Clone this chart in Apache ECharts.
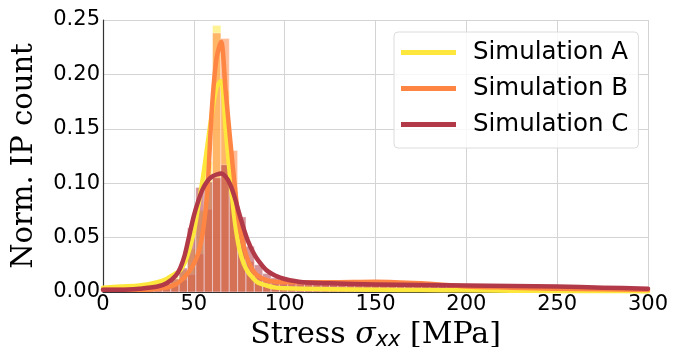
<!DOCTYPE html>
<html>
<head>
<meta charset="utf-8">
<script src="https://cdn.jsdelivr.net/npm/echarts@6/dist/echarts.min.js"></script>
<style>
  html, body { margin: 0; padding: 0; background: #fff; }
  #chart { width: 677px; height: 347px; }
</style>
</head>
<body>
<div id="chart"></div>
<script>
// series names + colours
const seriesNames = ['Simulation A', 'Simulation B', 'Simulation C'];
const seriesColors = ['#fde73c', '#ff8542', '#b23a48'];

// histogram bins (MPa)
const binStart = 0.5;
const binWidth = 4.6;

const histA = [
  0.004, 0.005, 0.005, 0.006, 0.007, 0.008, 0.009, 0.011, 0.014, 0.02,
  0.04, 0.075, 0.12, 0.245, 0.185, 0.095, 0.042, 0.02, 0.01, 0.006,
  0.004, 0.003, 0.002, 0.002, 0.002, 0.002, 0.002, 0.002, 0.002, 0.002,
  0.002, 0.002, 0.002, 0.002, 0.002, 0.002, 0.002, 0.0015, 0.0015, 0.0015,
  0.0015, 0.0015, 0.0015, 0.0015, 0.0015, 0.0015, 0.0015, 0.0015, 0.0015, 0.0015,
  0.0015, 0.001, 0.001, 0.001, 0.001, 0.001, 0.001, 0.001, 0.001, 0.001,
  0.001, 0.001, 0.001, 0.001, 0.001
];
const histB = [
  0.001, 0.001, 0.002, 0.002, 0.002, 0.003, 0.003, 0.004, 0.007, 0.011,
  0.016, 0.035, 0.076, 0.238, 0.233, 0.13, 0.06, 0.028, 0.015, 0.011,
  0.01, 0.009, 0.009, 0.01, 0.009, 0.01, 0.009, 0.009, 0.01, 0.01,
  0.009, 0.01, 0.009, 0.009, 0.01, 0.009, 0.009, 0.008, 0.008, 0.007,
  0.007, 0.006, 0.005, 0.005, 0.004, 0.004, 0.004, 0.004, 0.004, 0.004,
  0.004, 0.003, 0.003, 0.003, 0.003, 0.003, 0.003, 0.003, 0.002, 0.002,
  0.002, 0.002, 0.002, 0.002, 0.002
];
const histC = [
  0.002, 0.002, 0.003, 0.003, 0.004, 0.005, 0.006, 0.008, 0.012, 0.022,
  0.059, 0.096, 0.101, 0.105, 0.117, 0.092, 0.069, 0.042, 0.025, 0.017,
  0.013, 0.011, 0.01, 0.009, 0.009, 0.008, 0.008, 0.008, 0.007, 0.007,
  0.007, 0.007, 0.007, 0.006, 0.007, 0.006, 0.006, 0.006, 0.006, 0.006,
  0.006, 0.006, 0.006, 0.006, 0.006, 0.006, 0.006, 0.005, 0.005, 0.005,
  0.005, 0.005, 0.005, 0.005, 0.005, 0.004, 0.004, 0.004, 0.004, 0.004,
  0.004, 0.003, 0.003, 0.003, 0.003
];

// KDE curves, sampled at kdeX
const kdeX = [0, 10, 20, 30, 35, 40, 42.5, 45, 47.5, 50, 52.5, 55, 57.5, 60, 62.5, 65, 67.5, 70, 72.5, 75, 77.5, 80, 82.5, 85, 90, 95, 100, 110, 125, 150, 175, 200, 225, 250, 275, 300];
const kdeA = [0.004, 0.005, 0.006, 0.009, 0.012, 0.017, 0.02, 0.027, 0.039, 0.055, 0.08, 0.105, 0.135, 0.165, 0.188, 0.194, 0.15, 0.105, 0.066, 0.04, 0.026, 0.018, 0.013, 0.009, 0.006, 0.004, 0.0035, 0.003, 0.0025, 0.002, 0.0018, 0.0015, 0.0012, 0.001, 0.001, 0.0008];
const kdeB = [0.002, 0.002, 0.002, 0.003, 0.004, 0.007, 0.01, 0.014, 0.019, 0.026, 0.036, 0.055, 0.095, 0.17, 0.215, 0.23, 0.185, 0.14, 0.098, 0.062, 0.042, 0.028, 0.02, 0.015, 0.011, 0.0095, 0.009, 0.009, 0.009, 0.0095, 0.008, 0.005, 0.004, 0.003, 0.0025, 0.002];
const kdeC = [0.002, 0.002, 0.003, 0.005, 0.008, 0.015, 0.022, 0.034, 0.052, 0.07, 0.084, 0.095, 0.102, 0.106, 0.108, 0.109, 0.106, 0.099, 0.087, 0.072, 0.058, 0.046, 0.037, 0.03, 0.02, 0.015, 0.012, 0.009, 0.008, 0.007, 0.0065, 0.006, 0.0055, 0.005, 0.004, 0.003];

const xTicks = { min: 0, max: 300, interval: 50 };
const yTicks = { min: 0, max: 0.25, interval: 0.05 };

const hists = [histA, histB, histC];
const kdes = [kdeA, kdeB, kdeC];

const fontSans = 'DejaVu Sans';
const fontSerif = 'DejaVu Serif';
const gridColor = '#d4d4d4';
const barAlpha = 0.55;

function hexToRgba(hex, a) {
  const h = hex.replace('#', '');
  const r = parseInt(h.substring(0, 2), 16);
  const g = parseInt(h.substring(2, 4), 16);
  const b = parseInt(h.substring(4, 6), 16);
  return `rgba(${r}, ${g}, ${b}, ${a})`;
}

const series = [];
seriesNames.forEach((name, k) => {
  const color = seriesColors[k];
  const fill = hexToRgba(color, barAlpha);
  series.push({
    name: name + ' hist',
    type: 'custom',
    data: hists[k].map((h, i) => [binStart + i * binWidth, binStart + (i + 1) * binWidth, h]),
    renderItem: (params, api) => {
      const p0 = api.coord([api.value(0), api.value(2)]);
      const p1 = api.coord([api.value(1), 0]);
      return {
        type: 'rect',
        shape: { x: p0[0], y: p0[1], width: p1[0] - p0[0], height: p1[1] - p0[1] },
        style: { fill: fill, stroke: 'rgba(255,255,255,0.45)', lineWidth: 0.8 }
      };
    },
    clip: true,
    silent: true,
    z: 2
  });
  series.push({
    name: name,
    type: 'line',
    data: kdeX.map((x, i) => [x, kdes[k][i]]),
    smooth: 0.3,
    showSymbol: false,
    color: color,
    lineStyle: { color: color, width: 4.5, cap: 'round', join: 'round' },
    z: 3
  });
});

const chart = echarts.init(document.getElementById('chart'));
chart.setOption({
  animation: false,
  backgroundColor: '#fff',
  grid: { left: 103, right: 29, top: 20, bottom: 55, containLabel: false, outerBoundsMode: 'none' },
  legend: {
    data: seriesNames.map(n => ({ name: n, icon: 'rect' })),
    orient: 'vertical',
    left: 394,
    top: 32,
    itemWidth: 55,
    itemHeight: 5,
    itemGap: 11,
    padding: [8, 10, 11, 7],
    backgroundColor: 'rgba(255,255,255,0.8)',
    borderColor: '#dcdcdc',
    borderWidth: 1,
    borderRadius: 4,
    textStyle: {
      fontFamily: fontSans,
      fontSize: 24.5,
      lineHeight: 25,
      color: '#000',
      padding: [0, 0, 0, 12]
    }
  },
  xAxis: {
    type: 'value',
    min: xTicks.min,
    max: xTicks.max,
    interval: xTicks.interval,
    name: '{a|Stress }{s|σ}{sub|xx}{a| [MPa]}',
    nameLocation: 'middle',
    nameGap: 19,
    nameTextStyle: {
      rich: {
        a: { fontFamily: fontSerif, fontSize: 30, color: '#000', lineHeight: 32 },
        s: { fontFamily: fontSerif, fontStyle: 'italic', fontSize: 30, color: '#000', lineHeight: 32 },
        sub: { fontFamily: fontSans, fontStyle: 'italic', fontSize: 21, color: '#000', lineHeight: 16, verticalAlign: 'bottom' }
      }
    },
    axisLabel: { fontFamily: fontSans, fontSize: 21, color: '#000', margin: 2 },
    axisLine: { show: true, lineStyle: { color: '#333', width: 1.2 } },
    axisTick: { show: false },
    splitLine: { show: true, lineStyle: { color: gridColor, width: 1 } }
  },
  yAxis: {
    type: 'value',
    min: yTicks.min,
    max: yTicks.max,
    interval: yTicks.interval,
    name: 'Norm. IP count',
    nameLocation: 'middle',
    nameGap: 64,
    nameTextStyle: { fontFamily: fontSerif, fontSize: 29, color: '#000' },
    axisLabel: {
      fontFamily: fontSans,
      fontSize: 21,
      color: '#000',
      margin: 3,
      formatter: v => v.toFixed(2)
    },
    axisLine: { show: true, lineStyle: { color: '#333', width: 1.2 } },
    axisTick: { show: false },
    splitLine: { show: true, lineStyle: { color: gridColor, width: 1 } }
  },
  series
});
</script>
</body>
</html>
